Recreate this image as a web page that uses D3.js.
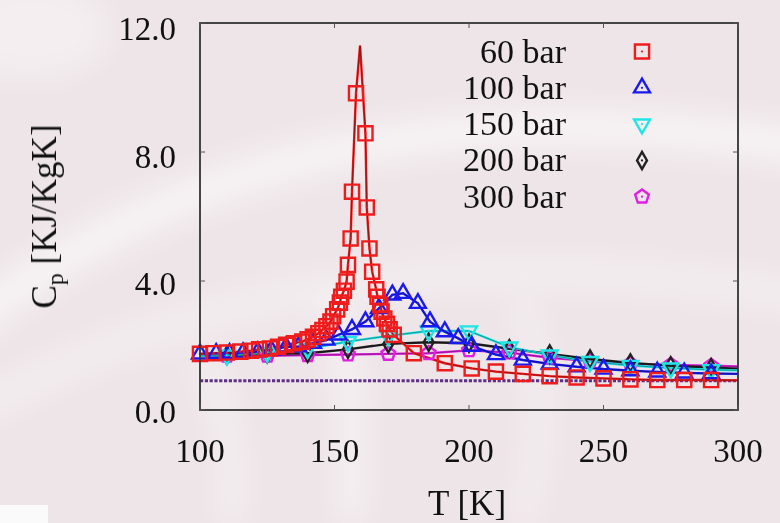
<!DOCTYPE html>
<html><head><meta charset="utf-8">
<script src="https://cdn.jsdelivr.net/npm/d3@7"></script>
<style>body{margin:0;background:#eee5e8;} svg{display:block}</style>
</head><body><svg id="c" width="780" height="523"></svg>
<script>
// ---------- data ----------
const seriesNames = ["60 bar", "100 bar", "150 bar", "200 bar", "300 bar"];
const seriesColors = ["#ee1c1c", "#1a1af0", "#1fe6e6", "#222222", "#e020e0"];

const t60  = [100,105,110,115,119,122,126,129,132,135,138,140,142,144,145.5,147,148.5,149.5,151,152,152.5,153.5,154.5,155,156,156.5,158,
              161.5,162,163,164,165.5,166,167,167.5,168.5,169.5,170.5,172,179.5,191,201,210,220,230,240,250,260,270,280,290];
const cp60 = [1.74,1.76,1.78,1.81,1.84,1.88,1.91,1.96,2.02,2.07,2.12,2.19,2.27,2.38,2.48,2.60,2.74,2.91,3.12,3.33,3.51,3.70,3.98,4.50,5.32,6.77,9.82,
              8.58,6.28,5.01,4.29,3.74,3.51,3.26,3.05,2.84,2.67,2.50,2.33,1.76,1.45,1.29,1.19,1.12,1.05,1.01,0.98,0.95,0.93,0.93,0.93];
const t60Line  = [159.5, 300];
const cp60Line = [11.3, 0.92];

const t100  = [100,106,111,116,121.5,126.5,132,136.5,142,147,151.5,156.5,161.5,166.5,171.5,175.5,181,185.5,191,196,201,210,220,230,240,250,260,270,280,290];
const cp100 = [1.74,1.76,1.76,1.78,1.81,1.86,1.96,1.96,2.07,2.17,2.33,2.50,2.74,3.15,3.57,3.62,3.31,2.74,2.43,2.22,1.98,1.72,1.55,1.43,1.34,1.27,1.22,1.18,1.15,1.13];
const t100Line  = [300];
const cp100Line = [1.12];

const t150  = [110,125,140,155,170,185,200,215,230,245,260,275,290];
const cp150 = [1.70,1.78,1.90,2.12,2.30,2.45,2.45,1.95,1.70,1.50,1.38,1.30,1.25];
const t150Line  = [100, 300];
const cp150Line = [1.68, 1.23];

const t200  = [110,125,140,155,170,185,200,215,230,245,260,275,290];
const cp200 = [1.70,1.74,1.76,1.88,2.05,2.10,2.07,1.90,1.74,1.58,1.46,1.37,1.31];
const t200Line  = [100, 300];
const cp200Line = [1.70, 1.28];

const t300  = [110,125,140,155,170,185,200,215,230,245,260,275,290];
const cp300 = [1.68,1.68,1.70,1.72,1.74,1.76,1.85,1.78,1.62,1.52,1.43,1.40,1.37];
const t300Line  = [100, 300];
const cp300Line = [1.68, 1.35];

const refLevel = 0.91;          // dashed horizontal reference line
const xTicks = [100, 150, 200, 250, 300];
const yTicks = [0, 4, 8, 12];
const xLabel = "T [K]";

// ---------- layout ----------
const svg = d3.select("#c");
const L = 200, R = 738, T = 23, B = 410;
const x = d3.scaleLinear().domain([100, 300]).range([L, R]);
const y = d3.scaleLinear().domain([0, 12]).range([B, T]);

// watermark-like soft background
const defs = svg.append("defs");
defs.append("filter").attr("id","blur").attr("x","-50%").attr("y","-50%").attr("width","200%").attr("height","200%")
  .append("feGaussianBlur").attr("stdDeviation", 14);
const wm = svg.append("g").attr("filter","url(#blur)").attr("fill","none").attr("stroke","#ffffff");
wm.append("path").attr("d","M-40,330 Q300,60 820,150").attr("stroke-width",40).attr("opacity",0.5);
wm.append("path").attr("d","M-40,420 Q320,210 820,300").attr("stroke-width",30).attr("opacity",0.35);
wm.append("path").attr("d","M350,520 Q360,380 330,300").attr("stroke-width",28).attr("opacity",0.45);
wm.append("path").attr("d","M230,523 Q240,420 200,360").attr("stroke-width",24).attr("opacity",0.4);
wm.append("path").attr("d","M520,523 Q560,400 520,300").attr("stroke-width",24).attr("opacity",0.35);
wm.append("ellipse").attr("cx",30).attr("cy",30).attr("rx",80).attr("ry",50).attr("fill","#fff").attr("stroke","none").attr("opacity",0.35);
svg.append("rect").attr("x",0).attr("y",505).attr("width",48).attr("height",18).attr("fill","#fafafa");

const plot = svg.append("g");
plot.append("clipPath").attr("id","clip").append("rect").attr("x",L).attr("y",T).attr("width",R-L).attr("height",B-T);

// reference dashed line
plot.append("line").attr("x1", x(100)).attr("x2", x(300)).attr("y1", y(refLevel)).attr("y2", y(refLevel))
  .attr("stroke","#5e2f86").attr("stroke-width",3).attr("stroke-dasharray","3.2,1.6");

// symbols
function pentagon(r){
  const pts = d3.range(5).map(i => {const a = -Math.PI/2 + i*2*Math.PI/5; return [r*Math.cos(a), r*Math.sin(a)];});
  return "M" + pts.map(p => p.join(",")).join("L") + "Z";
}
const symbolPaths = [
  d3.symbol().type(d3.symbolSquare).size(200)(),
  d3.symbol().type(d3.symbolTriangle).size(110)(),
  d3.symbol().type(d3.symbolTriangle).size(110)(),
  d3.symbol().type(d3.symbolDiamond).size(85)(),
  pentagon(7.2)
];
const symbolRot = [0, 0, 180, 0, 0];

const series = [
  {t: t60,  cp: cp60,  lt: t60Line,  lcp: cp60Line},
  {t: t100, cp: cp100, lt: t100Line, lcp: cp100Line},
  {t: t150, cp: cp150, lt: t150Line, lcp: cp150Line},
  {t: t200, cp: cp200, lt: t200Line, lcp: cp200Line},
  {t: t300, cp: cp300, lt: t300Line, lcp: cp300Line}
];
const line = d3.line().x(d => x(d[0])).y(d => y(d[1]));

const drawOrder = [4, 3, 2, 1, 0];
drawOrder.forEach(i => {
  const s = series[i];
  const pts = s.t.map((t, k) => [t, s.cp[k]]).concat(s.lt.map((t, k) => [t, s.lcp[k]])).sort((a, b) => a[0] - b[0]);
  const g = plot.append("g").attr("clip-path","url(#clip)");
  g.append("path").attr("d", line(pts)).attr("fill","none").attr("stroke", seriesColors[i]).attr("stroke-width", 2.4);
  g.append("path").attr("d", line(pts)).attr("fill","none").attr("stroke", "#000").attr("stroke-width", 0.8).attr("opacity", 0.45);
});
drawOrder.forEach(i => {
  const s = series[i];
  const g = plot.append("g");
  s.t.forEach((t, k) => {
    const m = g.append("g").attr("transform", `translate(${x(t)},${y(s.cp[k])}) rotate(${symbolRot[i]})`);
    m.append("path").attr("d", symbolPaths[i]).attr("fill","none").attr("stroke", seriesColors[i]).attr("stroke-width", 2.4);
    m.append("circle").attr("r", 1.1).attr("fill", seriesColors[i]);
  });
});

// frame and ticks
const frame = svg.append("g");
frame.append("rect").attr("x",L).attr("y",T).attr("width",R-L).attr("height",B-T)
  .attr("fill","none").attr("stroke","#333").attr("stroke-width",1.8);
xTicks.forEach(v => {
  frame.append("line").attr("x1",x(v)).attr("x2",x(v)).attr("y1",B).attr("y2",B-5).attr("stroke","#555");
  frame.append("line").attr("x1",x(v)).attr("x2",x(v)).attr("y1",T).attr("y2",T+5).attr("stroke","#555");
});
yTicks.forEach(v => {
  frame.append("line").attr("x1",L).attr("x2",L+5).attr("y1",y(v)).attr("y2",y(v)).attr("stroke","#555");
  frame.append("line").attr("x1",R).attr("x2",R-5).attr("y1",y(v)).attr("y2",y(v)).attr("stroke","#555");
});

const font = "'Liberation Serif','Times New Roman',serif";
svg.append("g").selectAll("text").data(xTicks).join("text")
  .attr("x", d => x(d)).attr("y", 462).attr("text-anchor","middle")
  .attr("font-family", font).attr("font-size", 33).attr("fill","#111").text(d => d);
svg.append("g").selectAll("text").data(yTicks).join("text")
  .attr("x", 176).attr("y", d => y(d) + 13 + (d/12)*4).attr("text-anchor","end")
  .attr("font-family", font).attr("font-size", 33).attr("fill","#111").text(d => d.toFixed(1));

svg.append("text").attr("x", 467).attr("y", 515).attr("text-anchor","middle")
  .attr("font-family", font).attr("font-size", 35).attr("fill","#111").text(xLabel);

const yl = svg.append("text").attr("transform", `translate(56,${(T+B)/2}) rotate(-90)`).attr("text-anchor","middle")
  .attr("font-family", font).attr("font-size", 35).attr("fill","#111");
yl.append("tspan").text("C");
yl.append("tspan").attr("font-size", 24).attr("dy", 7).text("p");
yl.append("tspan").attr("dy", -7).text(" [KJ/KgK]");

// legend
const legY0 = 51.5, legDy = 36.3;
seriesNames.forEach((name, i) => {
  const yy = legY0 + i*legDy;
  svg.append("text").attr("x", 566).attr("y", yy + 11).attr("text-anchor","end")
    .attr("font-family", font).attr("font-size", 34).attr("fill","#111").text(name);
  const m = svg.append("g").attr("transform", `translate(642,${yy}) rotate(${symbolRot[i]})`);
  m.append("path").attr("d", symbolPaths[i]).attr("fill","none").attr("stroke", seriesColors[i]).attr("stroke-width", 2.4);
  m.append("circle").attr("r", 1.1).attr("fill", seriesColors[i]);
});
</script></body></html>
